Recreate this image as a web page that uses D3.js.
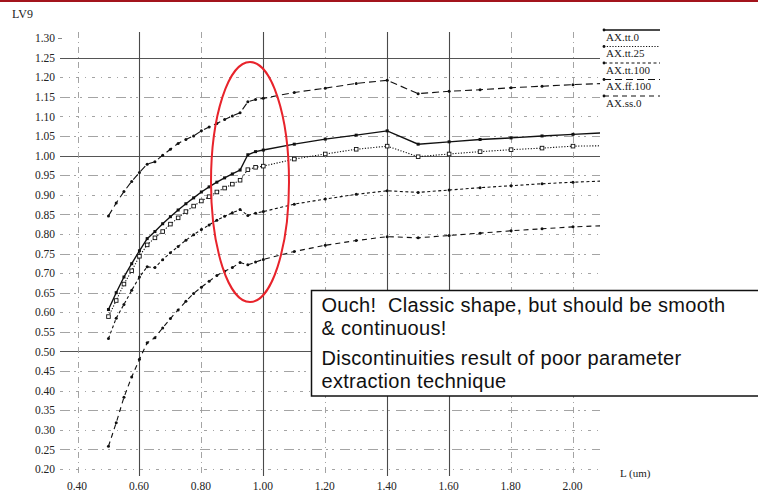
<!DOCTYPE html>
<html><head><meta charset="utf-8">
<script src="https://cdn.jsdelivr.net/npm/d3@7"></script>
<style>body{margin:0;background:#fff;} svg{display:block;}</style>
</head><body><svg id="c" width="758" height="496"></svg>
<script>
const lengths = [0.5,0.525,0.55,0.575,0.6,0.625,0.65,0.675,0.7,0.725,0.75,0.775,0.8,0.825,0.85,0.875,0.9,0.925,0.95,0.975,1.0,1.1,1.2,1.3,1.4,1.5,1.6,1.7,1.8,1.9,2.0,2.1];
const tt0   = [0.607,0.650,0.690,0.724,0.757,0.788,0.806,0.826,0.844,0.861,0.877,0.892,0.907,0.920,0.932,0.943,0.953,0.963,1.002,1.010,1.014,1.029,1.042,1.052,1.063,1.029,1.035,1.041,1.045,1.050,1.054,1.058];
const tt25  = [0.589,0.630,0.672,0.706,0.743,0.772,0.790,0.806,0.825,0.841,0.857,0.871,0.884,0.895,0.907,0.917,0.927,0.937,0.964,0.970,0.973,0.991,1.004,1.016,1.024,0.997,1.004,1.010,1.015,1.019,1.024,1.025];
const tt100 = [0.533,0.585,0.620,0.656,0.690,0.716,0.714,0.734,0.752,0.768,0.784,0.798,0.811,0.823,0.835,0.845,0.854,0.862,0.847,0.853,0.857,0.876,0.889,0.901,0.910,0.906,0.912,0.918,0.923,0.928,0.932,0.935];
const ff100 = [0.846,0.879,0.908,0.934,0.957,0.978,0.984,1.001,1.016,1.031,1.041,1.050,1.063,1.073,1.082,1.092,1.101,1.109,1.137,1.143,1.146,1.161,1.172,1.184,1.192,1.158,1.164,1.168,1.173,1.177,1.181,1.184];
const ss0   = [0.258,0.318,0.383,0.435,0.480,0.522,0.535,0.560,0.584,0.606,0.628,0.648,0.664,0.679,0.694,0.705,0.714,0.727,0.721,0.728,0.735,0.755,0.771,0.783,0.793,0.790,0.796,0.802,0.808,0.813,0.818,0.821];
const seriesNames = ["AX.tt.0","AX.tt.25","AX.tt.100","AX.ff.100","AX.ss.0"];
const xTicks = [0.4,0.6,0.8,1.0,1.2,1.4,1.6,1.8,2.0];
const yTicks = [0.20,0.25,0.30,0.35,0.40,0.45,0.50,0.55,0.60,0.65,0.70,0.75,0.80,0.85,0.90,0.95,1.00,1.05,1.10,1.15,1.20,1.25,1.30];
const yAxisTitle = "LV9";
const xAxisTitle = "L (um)";
const noteLines = ["Ouch!  Classic shape, but should be smooth","& continuous!","Discontinuities result of poor parameter","extraction technique"];

const svg = d3.select("#c");
const x = d3.scaleLinear().domain([0.4, 2.0]).range([77.5, 573]);
const y = d3.scaleLinear().domain([0.2, 1.3]).range([469, 38]);
const serif = "'Liberation Serif','DejaVu Serif',serif";

svg.append("rect").attr("width",758).attr("height",496).attr("fill","#fff");
svg.append("rect").attr("x",0).attr("y",0).attr("width",758).attr("height",2).attr("fill","#a3141c");

// gridlines
const solidH = [1.25, 1.00, 0.50];
const isIn = (arr, d) => arr.some(s => Math.abs(s-d) < 1e-6);
const grid = svg.append("g");
grid.selectAll("line.h").data(yTicks.filter(v => v < 1.29)).join("line")
  .attr("x1", 60).attr("x2", 600)
  .attr("y1", d => Math.round(y(d)) + 0.5).attr("y2", d => Math.round(y(d)) + 0.5)
  .attr("stroke", d => isIn(solidH, d) ? "#555" : "#9a9a9a")
  .attr("stroke-width", d => isIn(solidH, d) ? 1 : 0.9)
  .attr("stroke-dasharray", (d,i) => isIn(solidH, d) ? null : (i % 2 ? "10,4,2,4,2,6" : "3,6,1,6"));
grid.append("line").attr("x1",58).attr("x2",62).attr("y1",y(1.3)+0.5).attr("y2",y(1.3)+0.5).attr("stroke","#888");
const solidV = [0.6, 1.0, 1.4, 1.6];
grid.selectAll("line.v").data(xTicks).join("line")
  .attr("x1", d => Math.round(x(d)) + 0.5).attr("x2", d => Math.round(x(d)) + 0.5)
  .attr("y1", 32).attr("y2", 476)
  .attr("stroke", d => isIn(solidV, d) ? "#4a4a4a" : "#9a9a9a")
  .attr("stroke-width", d => isIn(solidV, d) ? 1.1 : 0.9)
  .attr("stroke-dasharray", d => isIn(solidV, d) ? null : "6,4,1,4");

// axes labels
const yAxis = svg.append("g").attr("transform","translate(57,0)")
  .call(d3.axisLeft(y).tickValues(yTicks).tickFormat(d3.format(".2f")).tickSize(0).tickPadding(2));
yAxis.select(".domain").remove();
yAxis.selectAll("text").attr("font-family", serif).attr("font-size", 11.5).attr("fill","#222");
const xAxis = svg.append("g").attr("transform","translate(-1,480)")
  .call(d3.axisBottom(x).tickValues(xTicks).tickFormat(d3.format(".2f")).tickSize(0).tickPadding(2));
xAxis.select(".domain").remove();
xAxis.selectAll("text").attr("font-family", serif).attr("font-size", 11.5).attr("fill","#222");
svg.append("text").attr("x",12).attr("y",18).text(yAxisTitle)
  .attr("font-family", serif).attr("font-size", 12).attr("fill","#222");
svg.append("text").attr("x",620).attr("y",477).text(xAxisTitle)
  .attr("font-family", serif).attr("font-size", 11).attr("fill","#222");

// series
svg.append("clipPath").attr("id","clip").append("rect").attr("x",60).attr("y",25).attr("width",540).attr("height",455);
const seriesVals = [tt0, tt25, tt100, ff100, ss0];
const styles = [
  {dash:null, w:1.4, mark:"sq"},
  {dash:"1.2,1.6", w:1.1, mark:"osq"},
  {dash:"3,2.5", w:1.1, mark:"dot"},
  {dash:"7,4", w:1.1, mark:"dot"},
  {dash:"5,4", w:1.1, mark:"dot"}
];
const line = d3.line().x(d => x(d[0])).y(d => y(d[1]));
const plot = svg.append("g").attr("clip-path","url(#clip)");
seriesVals.forEach((vals, si) => {
  const pts = lengths.map((l, i) => [l, vals[i]]);
  const st = styles[si];
  plot.append("path").datum(pts).attr("d", line).attr("fill","none")
    .attr("stroke","#111").attr("stroke-width", st.w)
    .attr("stroke-dasharray", st.dash);
  const mk = plot.append("g");
  pts.filter(p => p[0] <= 2.0).forEach(p => {
    if (st.mark === "osq") {
      mk.append("rect").attr("x", x(p[0])-1.8).attr("y", y(p[1])-1.8).attr("width",3.6).attr("height",3.6)
        .attr("fill","#fff").attr("stroke","#111").attr("stroke-width",0.9);
    } else if (st.mark === "sq") {
      mk.append("rect").attr("x", x(p[0])-1.5).attr("y", y(p[1])-1.5).attr("width",3).attr("height",3).attr("fill","#111");
    } else {
      mk.append("circle").attr("cx", x(p[0])).attr("cy", y(p[1])).attr("r",1.5).attr("fill","#111");
    }
  });
});

// legend
const lg = svg.append("g");
seriesNames.forEach((name, i) => {
  const ly = 30 + i * 16.5;
  lg.append("line").attr("x1",604).attr("x2",660).attr("y1",ly).attr("y2",ly)
    .attr("stroke","#111").attr("stroke-width", i === 0 ? 1.4 : 1.1).attr("stroke-dasharray", styles[i].dash);
  lg.append("circle").attr("cx",604).attr("cy",ly).attr("r",1.4).attr("fill","#111");
  lg.append("text").attr("x",606).attr("y",ly+10.5).text(name)
    .attr("font-family", serif).attr("font-size", 11).attr("fill","#222");
});

// red ellipse
svg.append("ellipse").attr("cx",250).attr("cy",182).attr("rx",39).attr("ry",120)
  .attr("fill","none").attr("stroke","#e8232b").attr("stroke-width",2);

// note box
svg.append("rect").attr("x",311.5).attr("y",290.5).attr("width",460).attr("height",105.5)
  .attr("fill","#fff").attr("stroke","#111").attr("stroke-width",1.5);
const baselines = [312, 334.5, 365, 387.5];
noteLines.forEach((t, i) => {
  svg.append("text").attr("x",321.5).attr("y",baselines[i]).text(t)
    .attr("font-family","'Liberation Sans',Arial,sans-serif").attr("font-size",20)
    .attr("letter-spacing",0.3).attr("fill","#111")
    .style("white-space","pre");
});
</script></body></html>
